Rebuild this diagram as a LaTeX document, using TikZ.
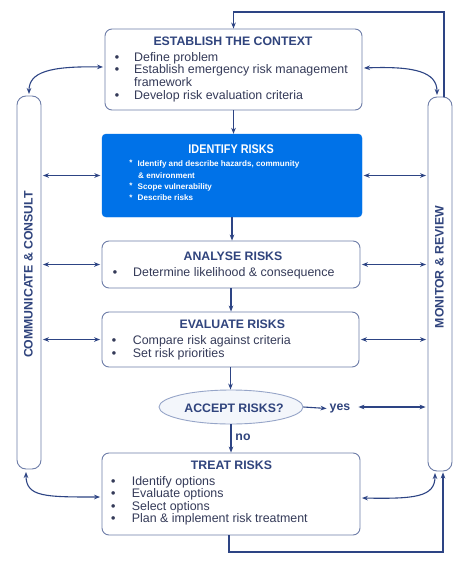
\documentclass[tikz,border=0pt]{standalone}
\usepackage{fontspec}
\setmainfont{Liberation Sans}
\newfontfamily\narrowf[FakeStretch=0.86]{Liberation Sans}
\usetikzlibrary{arrows.meta,shapes.geometric}
\definecolor{navy}{RGB}{45,68,132}
\definecolor{titlec}{RGB}{48,68,125}
\definecolor{bodyc}{RGB}{52,58,88}
\definecolor{edgec}{RGB}{110,125,168}
\definecolor{idblue}{RGB}{0,114,232}
\definecolor{accfill}{RGB}{243,246,251}
\definecolor{accedge}{RGB}{150,165,200}
\begin{document}
\begin{tikzpicture}[x=1pt,y=-1pt,
 box/.style={draw=edgec,line width=0.9pt,rounded corners=7pt,inner sep=0pt},
 bar/.style={draw=edgec,line width=0.9pt,rounded corners=9pt,minimum width=24pt,inner sep=0pt},
 title/.style={font=\fontsize{12.3}{12.3}\selectfont\bfseries,text=titlec,inner sep=0pt,anchor=base},
 body/.style={font=\fontsize{12.4}{12.6}\selectfont,text=bodyc,inner sep=0pt,anchor=base west},
 bul/.style={font=\fontsize{12.4}{12.4}\selectfont\bfseries,text=bodyc,inner sep=0pt,anchor=base},
 wbody/.style={font=\fontsize{8.1}{8.1}\selectfont\bfseries,text=white,inner sep=0pt,anchor=base west},
 wbul/.style={font=\fontsize{8}{8}\selectfont\bfseries,text=white,inner sep=0pt,anchor=base},
 conn/.style={draw=navy,line width=1.1pt,-{Stealth[length=6pt,width=4.6pt]}},
 dbl/.style={draw=navy,line width=1.1pt,{Stealth[length=6pt,width=4.6pt]}-{Stealth[length=6pt,width=4.6pt]}},
 gap/.style={shorten <=1.5pt,shorten >=1.5pt}]

\useasboundingbox[fill=white] (0,0) rectangle (474,565);

% boxes
\node[box,minimum width=257pt,minimum height=81pt] (est) at (233.5,69.5) {};
\node[draw=idblue,fill=idblue,rounded corners=4pt,inner sep=0pt,minimum width=260pt,minimum height=83pt] (idf) at (232,175.5) {};
\node[box,minimum width=258pt,minimum height=47pt] (ana) at (231,264.5) {};
\node[box,minimum width=257pt,minimum height=55pt] (eva) at (230.5,339.5) {};
\node[ellipse,draw=accedge,line width=0.9pt,fill=accfill,minimum width=144pt,minimum height=34pt,inner sep=0pt] (acc) at (231,407) {};
\node[box,minimum width=258pt,minimum height=82pt] (treat) at (231,494) {};
\node[bar,minimum height=373pt] (lbar) at (29,282.5) {};
\node[bar,minimum height=374pt] (rbar) at (440,284) {};

% establish text
\node[title] (estT) at (233,45.7) {ESTABLISH THE CONTEXT};
\node[bul] (estB1) at (117,61) {•};
\node[bul] (estB2) at (117,73.7) {•};
\node[bul] (estB3) at (117,99) {•};
\node[body] (estL1) at (134,61) {Define problem};
\node[body] (estL2) at (134,73.7) {Establish emergency risk management};
\node[body] (estL3) at (134,86.2) {framework};
\node[body] (estL4) at (134,99) {Develop risk evaluation criteria};

% identify text
\node[font=\fontsize{12.6}{12.6}\selectfont\narrowf\bfseries,text=white,inner sep=0pt,anchor=base] (idfT) at (231.2,153) {IDENTIFY RISKS};
\node[wbul] (idfB1) at (131,165.5) {*};
\node[wbul] (idfB2) at (131,188.5) {*};
\node[wbul] (idfB3) at (131,200) {*};
\node[wbody] (idfL1) at (137.5,166.7) {Identify and describe hazards, community};
\node[wbody] (idfL2) at (138,178.3) {\& environment};
\node[wbody] (idfL3) at (137.5,189.5) {Scope vulnerability};
\node[wbody] (idfL4) at (137.5,200.8) {Describe risks};

% analyse text
\node[title] (anaT) at (233,260.3) {ANALYSE RISKS};
\node[bul] (anaB1) at (115,276.7) {•};
\node[body] (anaL1) at (133,276.7) {Determine likelihood \& consequence};

% evaluate text
\node[title] (evaT) at (232.3,328.3) {EVALUATE RISKS};
\node[bul] (evaB1) at (114,344.3) {•};
\node[bul] (evaB2) at (114,357) {•};
\node[body] (evaL1) at (132.7,344.3) {Compare risk against criteria};
\node[body] (evaL2) at (132.7,357) {Set risk priorities};

% accept
\node[title] (accT) at (234,412.3) {ACCEPT RISKS?};
\node[title] (yes) at (340,410.5) {yes};
\node[title] (no) at (243,440) {no};

% treat text
\node[title] (treatT) at (231.5,469) {TREAT RISKS};
\node[bul] (trB1) at (113.3,485) {•};
\node[bul] (trB2) at (113.3,497.7) {•};
\node[bul] (trB3) at (113.3,510) {•};
\node[bul] (trB4) at (113.3,522.3) {•};
\node[body] (trL1) at (131.7,485) {Identify options};
\node[body] (trL2) at (131.7,497.7) {Evaluate options};
\node[body] (trL3) at (131.7,510) {Select options};
\node[body] (trL4) at (131.7,522.3) {Plan \& implement risk treatment};

% bar labels
\node[font=\fontsize{12.3}{12.3}\selectfont\bfseries,text=titlec,rotate=90,inner sep=0pt] (lbarT) at (28.5,274.5) {COMMUNICATE \& CONSULT};
\node[font=\fontsize{12.3}{12.3}\selectfont\bfseries,text=titlec,rotate=90,inner sep=0pt] (rbarT) at (439.5,267) {MONITOR \& REVIEW};

% vertical flow arrows
\draw[conn] (est.south) -- (est.south |- idf.north);
\draw[conn] (idf.south) -- (idf.south |- ana.north);
\draw[conn] (ana.south) -- (ana.south |- eva.north);
\draw[conn] (eva.south) -- (eva.south |- acc.north);
\draw[conn] (acc.south) -- (acc.south |- treat.north);

% yes
\draw[conn] (acc.east) -- ([xshift=-3pt]yes.west);
\draw[dbl] ([xshift=8pt]yes.east |- acc.east) -- ([xshift=-2pt]rbar.west |- acc.east);

% horizontal links to bars
\draw[dbl,gap] (lbar.east |- idf.west) -- (idf.west);
\draw[dbl,gap] (lbar.east |- ana.west) -- (ana.west);
\draw[dbl,gap] (lbar.east |- eva.west) -- (eva.west);
\draw[dbl,gap] (idf.east) -- (rbar.west |- idf.east);
\draw[dbl,gap] (ana.east) -- (rbar.west |- ana.east);
\draw[dbl,gap] (eva.east) -- (rbar.west |- eva.east);

% curved links
\coordinate (cTL) at (29,94);
\coordinate (cTR) at (437,95);
\coordinate (cBL) at (26,472);
\coordinate (cBR) at (435,473);
\draw[dbl] (cTL) .. controls (29,72) and (50,66) .. ([xshift=-1.5pt,yshift=2.5pt]est.west);
\draw[dbl] ([xshift=1.5pt,yshift=1.5pt]est.east) .. controls (415,66) and (437,72) .. (cTR);
\draw[dbl] (cBL) .. controls (26,497) and (45,497) .. ([xshift=-1.5pt,yshift=-3pt]treat.west);
\draw[dbl] ([xshift=1.5pt,yshift=-4pt]treat.east) .. controls (415,499) and (435,497) .. (cBR);

% feedback loops
\coordinate (topL) at (233.5,12);
\coordinate (topR) at (444,12);
\coordinate (botL) at (229,552);
\coordinate (botR) at (443,552);
\draw[conn] (rbar.north -| topR) -- (topR) -- (topL) -- (est.north);
\draw[conn] (treat.south -| botL) -- (botL) -- (botR) -- ([yshift=-1pt]rbar.south -| botR);
\end{tikzpicture}
\end{document}
